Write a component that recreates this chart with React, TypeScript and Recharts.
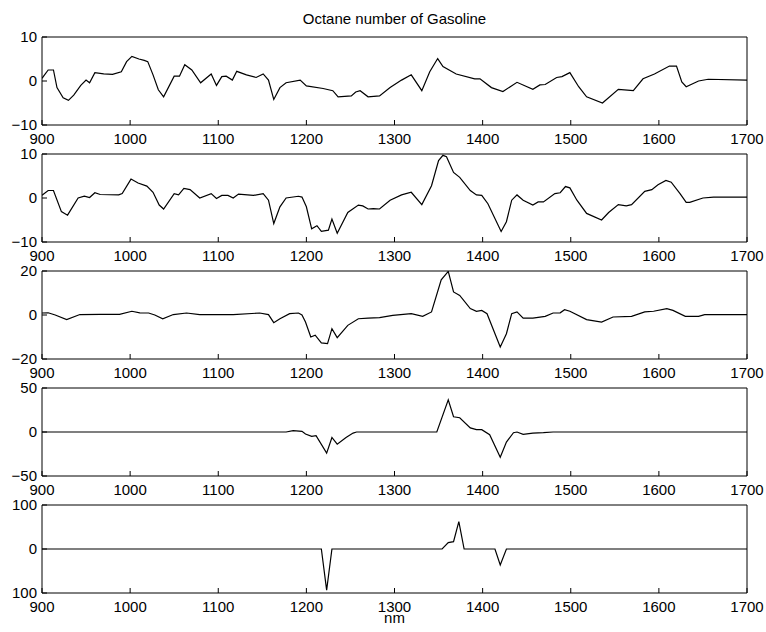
import React from 'react';
import { LineChart, Line, XAxis, YAxis } from 'recharts';

// ---------- data (wavelength in nm, regression coefficients) ----------
const wl1 = [900, 907, 913, 917, 924, 930, 936, 944, 950, 954, 960, 970, 980, 990, 996, 1002, 1010, 1016, 1020, 1026, 1032, 1038, 1050, 1056, 1062, 1070, 1080, 1092, 1098, 1104, 1109, 1116, 1121, 1132, 1143, 1151, 1157, 1163, 1170, 1177, 1193, 1200, 1219, 1230, 1236, 1251, 1256, 1261, 1270, 1283, 1295, 1308, 1319, 1331, 1340, 1349, 1355, 1370, 1391, 1397, 1410, 1423, 1439, 1457, 1465, 1471, 1484, 1490, 1499, 1509, 1518, 1536, 1554, 1571, 1582, 1595, 1612, 1620, 1626, 1631, 1645, 1656, 1700];
const oct1 = [0.6, 2.5, 2.5, -1.5, -3.8, -4.4, -3.2, -1, 0.2, -0.4, 1.9, 1.6, 1.5, 2.1, 4.4, 5.6, 5.0, 4.7, 4.4, 1.4, -2, -3.6, 1.1, 1.1, 3.7, 2.5, -0.4, 1.6, -1, 1, 1.1, 0.2, 2.2, 1.4, 0.8, 1.6, 0.2, -4.2, -1.5, -0.4, 0.2, -1.1, -1.7, -2.2, -3.6, -3.4, -2.5, -2.2, -3.6, -3.4, -1.5, 0.2, 1.4, -2.2, 2.1, 5.1, 3.3, 1.6, 0.5, 0.5, -1.5, -2.4, -0.3, -1.9, -0.9, -0.8, 0.8, 1.0, 1.9, -1.3, -3.6, -5, -1.9, -2.2, 0.5, 1.6, 3.4, 3.4, -0.2, -1.3, 0, 0.4, 0.2];

const wl2 = [900, 907, 913, 922, 929, 941, 948, 954, 960, 966, 987, 991, 1001, 1009, 1019, 1026, 1033, 1038, 1050, 1055, 1061, 1068, 1079, 1092, 1098, 1104, 1111, 1117, 1123, 1140, 1151, 1157, 1163, 1170, 1177, 1191, 1195, 1200, 1206, 1212, 1217, 1225, 1229, 1235, 1247, 1259, 1264, 1270, 1276, 1283, 1295, 1308, 1319, 1331, 1342, 1350, 1355, 1359, 1367, 1374, 1386, 1393, 1399, 1406, 1421, 1427, 1433, 1439, 1446, 1457, 1463, 1469, 1482, 1488, 1494, 1499, 1507, 1518, 1535, 1543, 1554, 1563, 1569, 1584, 1592, 1599, 1608, 1614, 1624, 1631, 1635, 1650, 1662, 1700];
const oct2 = [0.6, 1.7, 1.7, -3.1, -3.9, 0, 0.4, 0.1, 1.2, 0.8, 0.7, 1, 4.3, 3.4, 2.7, 1.3, -1.6, -2.5, 1, 0.7, 2.2, 1.9, 0, 1, -0.1, 0.6, 0.6, 0, 0.9, 0.6, 1, -0.5, -5.8, -2, 0, 0.4, 0.2, -2, -7, -6.3, -7.6, -7.3, -4.8, -8, -3.3, -1.6, -1.8, -2.5, -2.4, -2.5, -0.5, 0.7, 1.3, -1.5, 2.8, 8.5, 9.7, 9.4, 5.8, 4.7, 1.7, 0.7, 0.6, -1.3, -7.6, -5.4, -0.5, 0.7, -0.5, -1.6, -0.9, -0.9, 1, 1.2, 2.6, 2.3, -0.5, -3.5, -5, -3.3, -1.5, -1.8, -1.5, 1.5, 1.9, 3, 4, 3.6, 1, -1, -1, 0, 0.2, 0.2];

const wl3 = [900, 907, 915, 928, 943, 966, 988, 1002, 1011, 1021, 1028, 1037, 1049, 1064, 1079, 1117, 1147, 1157, 1163, 1170, 1181, 1191, 1195, 1199, 1205, 1210, 1217, 1224, 1229, 1235, 1247, 1259, 1270, 1283, 1298, 1319, 1332, 1342, 1353, 1361, 1367, 1374, 1386, 1393, 1399, 1405, 1420, 1427, 1433, 1439, 1446, 1457, 1471, 1480, 1488, 1493, 1499, 1518, 1535, 1548, 1569, 1584, 1594, 1609, 1616, 1630, 1645, 1652, 1700];
const oct3 = [0.9, 1, 0, -2.1, 0.2, 0.3, 0.3, 1.7, 1, 0.9, 0, -1.7, 0.2, 0.9, 0.2, 0.2, 0.9, 0.2, -3.5, -1.7, 0.6, 0.9, 0, -3.2, -10, -9.2, -12.7, -13, -6.2, -10.3, -4.7, -1.7, -1.4, -1.2, -0.2, 0.6, -0.6, 1.4, 16, 19.8, 10.5, 8.9, 2.9, 1.7, 2.1, 0.6, -14.5, -8.5, 0.6, 1.4, -1.4, -1.4, -0.6, 0.9, 1, 2.4, 1.7, -2.1, -3.2, -0.9, -0.6, 1.4, 1.7, 2.9, 2.1, -0.6, -0.6, 0.2, 0.2];

const wl4 = [900, 1177, 1185, 1195, 1199, 1206, 1211, 1223, 1229, 1235, 1245, 1253, 1257, 1348, 1361, 1367, 1374, 1386, 1393, 1399, 1408, 1420, 1427, 1435, 1439, 1446, 1457, 1469, 1480, 1700];
const oct4 = [0, 0, 1.5, 0.8, -2.3, -5, -4.2, -24, -6.2, -13.8, -6.2, -1.2, 0, 0, 36.5, 17.3, 16.2, 4.6, 2.7, 2.7, -3.1, -28.8, -11.5, -0.8, 0, -2.7, -1.2, -0.8, 0, 0];

const wl5 = [900, 1217, 1223, 1229, 1354, 1361, 1367, 1373, 1379, 1414, 1420, 1427, 1700];
const oct5 = [0, 0, -93.5, 0, 0, 14.4, 16.7, 62, 0, 0, -36.5, 0, 0];

const xTicks = [900, 1000, 1100, 1200, 1300, 1400, 1500, 1600, 1700];

const yTicks1 = [-10, 0, 10];
const yLabels1 = ['\u221210', '0', '10'];
const yTicks2 = [-10, 0, 10];
const yLabels2 = ['\u221210', '0', '10'];
const yTicks3 = [-20, 0, 20];
const yLabels3 = ['\u221220', '0', '20'];
const yTicks4 = [-50, 0, 50];
const yLabels4 = ['\u221250', '0', '50'];
const yTicks5 = [-100, 0, 100];
const yLabels5 = ['100', '0', '100'];

const titleText = 'Octane number of Gasoline';
const xLabelText = 'nm';

// ---------- layout ----------
const FONT = '"Liberation Sans", Arial, Helvetica, sans-serif';
const PANEL_TOPS = [37, 154, 271, 388, 505];
const PLOT_H = 88;
const TOP_M = 14;

type PanelProps = {
  xs: number[];
  ys: number[];
  yTicks: number[];
  yLabels: string[];
  top: number;
};

function Panel({ xs, ys, yTicks, yLabels, top }: PanelProps) {
  const data = xs.map((x, i) => ({ x, y: ys[i] }));
  const dom: [number, number] = [yTicks[0], yTicks[yTicks.length - 1]];
  const fmt = (v: number) => {
    const idx = yTicks.indexOf(v);
    return idx >= 0 ? yLabels[idx] : String(v);
  };
  const tickStyle = { fill: '#000', fontSize: 15, fontFamily: FONT };
  return (
    <div style={{ position: 'absolute', left: 0, top: top - TOP_M - 1 }}>
      <LineChart
        width={766}
        height={TOP_M + 1 + PLOT_H + 30}
        data={data}
        margin={{ top: TOP_M, right: 18, left: 0, bottom: 0 }}
      >
        <XAxis
          xAxisId="b"
          dataKey="x"
          type="number"
          domain={[900, 1700]}
          ticks={xTicks}
          interval={0}
          allowDataOverflow
          tickSize={-5}
          tickMargin={13}
          height={30}
          stroke="#000"
          tick={tickStyle}
        />
        <XAxis
          xAxisId="t"
          orientation="top"
          dataKey="x"
          type="number"
          domain={[900, 1700]}
          ticks={xTicks}
          interval={0}
          allowDataOverflow
          tickSize={-5}
          tickMargin={0}
          tick={false}
          height={1}
          stroke="#000"
        />
        <YAxis
          yAxisId="l"
          type="number"
          domain={dom}
          ticks={yTicks}
          interval={0}
          allowDataOverflow
          tickSize={-5}
          tickMargin={10}
          width={42}
          stroke="#000"
          tick={tickStyle}
          tickFormatter={fmt}
        />
        <YAxis
          yAxisId="r"
          orientation="right"
          type="number"
          domain={dom}
          ticks={yTicks}
          interval={0}
          allowDataOverflow
          tickSize={-5}
          tickMargin={0}
          tick={false}
          width={1}
          stroke="#000"
        />
        <Line
          xAxisId="t"
          yAxisId="r"
          type="linear"
          dataKey="y"
          stroke="none"
          strokeWidth={0}
          dot={false}
          legendType="none"
          isAnimationActive={false}
        />
        <Line
          xAxisId="b"
          yAxisId="l"
          type="linear"
          dataKey="y"
          stroke="#000"
          strokeWidth={1.2}
          dot={false}
          isAnimationActive={false}
        />
      </LineChart>
    </div>
  );
}

export default function App() {
  return (
    <div
      style={{
        position: 'absolute',
        left: 0,
        top: 0,
        width: 766,
        height: 632,
        background: '#fff',
        fontFamily: FONT,
      }}
    >
      <div
        style={{
          position: 'absolute',
          left: 42,
          width: 705,
          top: 10,
          textAlign: 'center',
          fontSize: 15,
          lineHeight: '18px',
          color: '#000',
        }}
      >
        {titleText}
      </div>
      <Panel xs={wl1} ys={oct1} yTicks={yTicks1} yLabels={yLabels1} top={PANEL_TOPS[0]} />
      <Panel xs={wl2} ys={oct2} yTicks={yTicks2} yLabels={yLabels2} top={PANEL_TOPS[1]} />
      <Panel xs={wl3} ys={oct3} yTicks={yTicks3} yLabels={yLabels3} top={PANEL_TOPS[2]} />
      <Panel xs={wl4} ys={oct4} yTicks={yTicks4} yLabels={yLabels4} top={PANEL_TOPS[3]} />
      <Panel xs={wl5} ys={oct5} yTicks={yTicks5} yLabels={yLabels5} top={PANEL_TOPS[4]} />
      <div
        style={{
          position: 'absolute',
          left: 42,
          width: 705,
          top: 612,
          textAlign: 'center',
          fontSize: 15,
          lineHeight: '11px',
          height: 11,
          color: '#000',
        }}
      >
        {xLabelText}
      </div>
    </div>
  );
}
